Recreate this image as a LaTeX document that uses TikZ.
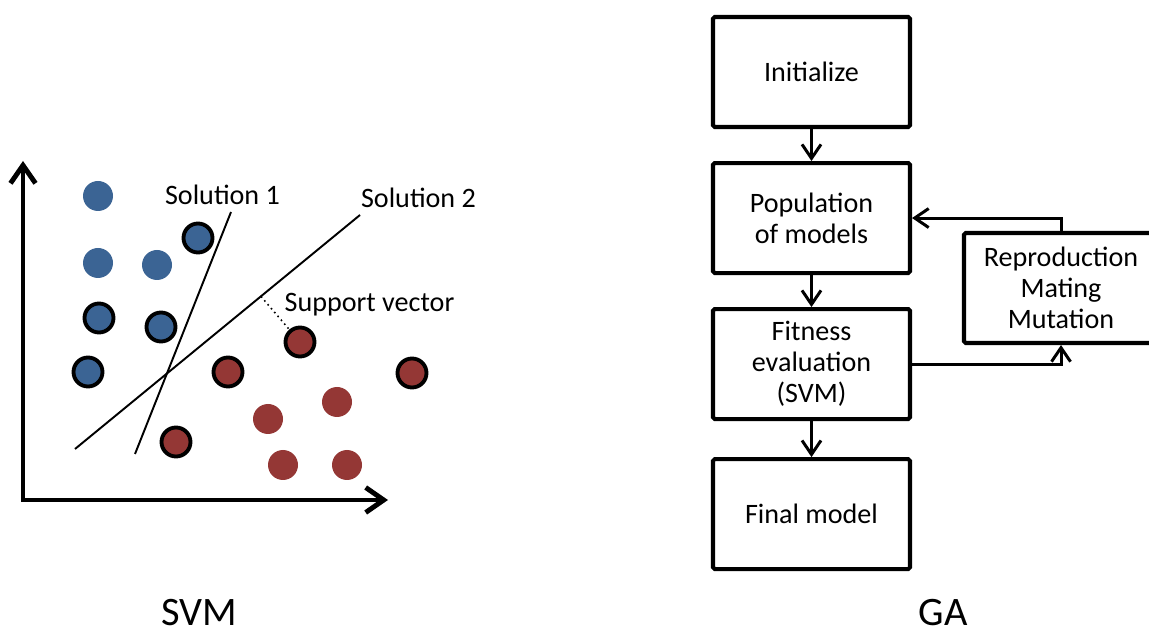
\documentclass[tikz,border=0pt]{standalone}
\usepackage{fontspec}
\setmainfont{Carlito}
\usetikzlibrary{positioning,arrows.meta}
\definecolor{blu}{RGB}{59,100,148}
\definecolor{rosso}{RGB}{148,55,53}

\begin{document}
\begin{tikzpicture}[
    asse/.style={line width=2.8pt, line join=miter,
        {Straight Barb[length=3.6mm,width=5mm]}-{Straight Barb[length=3.6mm,width=5mm]}},
    punto/.style={circle, minimum size=0.6cm, inner sep=0pt},
    pblu/.style={punto, fill=blu},
    prosso/.style={punto, fill=rosso},
    psupp/.style={punto, minimum size=0.58cm, draw=black, line width=2.2pt},
    soluzione/.style={line width=1.1pt},
    etichetta/.style={anchor=base, inner sep=0pt, font=\fontsize{16}{18}\selectfont},
    blocco/.style={draw, line width=2.3pt, rounded corners=1pt, minimum width=3.94cm,
        minimum height=2.2cm, align=center, font=\fontsize{16}{17.6}\selectfont},
    freccia/.style={line width=1.7pt, -{Straight Barb[length=2.8mm,width=3.8mm]}},
    titolo/.style={anchor=base, inner sep=0pt, font=\fontsize{23}{26}\selectfont}
]

    \useasboundingbox (0,0) rectangle (22.98,12.7);

    % -- Parte sinistra: SVM --
    \draw[asse] (0.46,9.48) |- (7.76,2.70);

    % punti blu
    \node[pblu] (b1) at (1.96,8.78) {};
    \node[pblu] (b2) at (1.96,7.44) {};
    \node[pblu] (b3) at (3.14,7.40) {};
    \node[psupp, fill=blu] (bs1) at (3.96,7.94) {};
    \node[psupp, fill=blu] (bs2) at (1.98,6.34) {};
    \node[psupp, fill=blu] (bs3) at (3.22,6.16) {};
    \node[psupp, fill=blu] (bs4) at (1.76,5.26) {};

    % punti rossi
    \node[psupp, fill=rosso] (rs1) at (6.00,5.86) {};
    \node[psupp, fill=rosso] (rs2) at (4.56,5.26) {};
    \node[psupp, fill=rosso] (rs3) at (8.24,5.24) {};
    \node[psupp, fill=rosso] (rs4) at (3.52,3.86) {};
    \node[prosso] (r1) at (6.74,4.66) {};
    \node[prosso] (r2) at (5.36,4.32) {};
    \node[prosso] (r3) at (5.66,3.40) {};
    \node[prosso] (r4) at (6.94,3.40) {};

    % rette di separazione
    \draw[soluzione] (2.70,3.62) -- (4.62,8.46);
    \draw[soluzione] (1.50,3.72) -- (7.20,8.40);

    \node[etichetta] (sol1) at (4.45,8.60) {Solution 1};
    \node[etichetta] (sol2) at (8.37,8.54) {Solution 2};
    \node[etichetta] (sv) at (7.39,6.46) {Support vector};

    \coordinate (piede) at (5.22,6.77);
    \draw[dotted, line width=0.9pt] (piede) -- (rs1);

    \node[titolo] (svm) at (3.98,0.2) {SVM};

    % -- Parte destra: GA --
    \node[blocco] (init) at (16.23,11.26) {Initialize};
    \node[blocco, below=0.64cm of init] (pop) {Population\\of models};
    \node[blocco, below=0.64cm of pop] (fit) {Fitness\\evaluation\\(SVM)};
    \node[blocco, below=0.72cm of fit] (fin) {Final model};
    \node[blocco, minimum width=3.88cm] (repro) at (21.22,6.94) {Reproduction\\Mating\\Mutation};

    \draw[freccia] (init) -- (pop);
    \draw[freccia] (pop) -- (fit);
    \draw[freccia] (fit) -- (fin);
    \draw[freccia] (repro.north) |- (pop.east);
    \draw[freccia] (fit.east) -| (repro.south);

    \node[titolo] (ga) at (18.86,0.2) {GA};

\end{tikzpicture}
\end{document}
